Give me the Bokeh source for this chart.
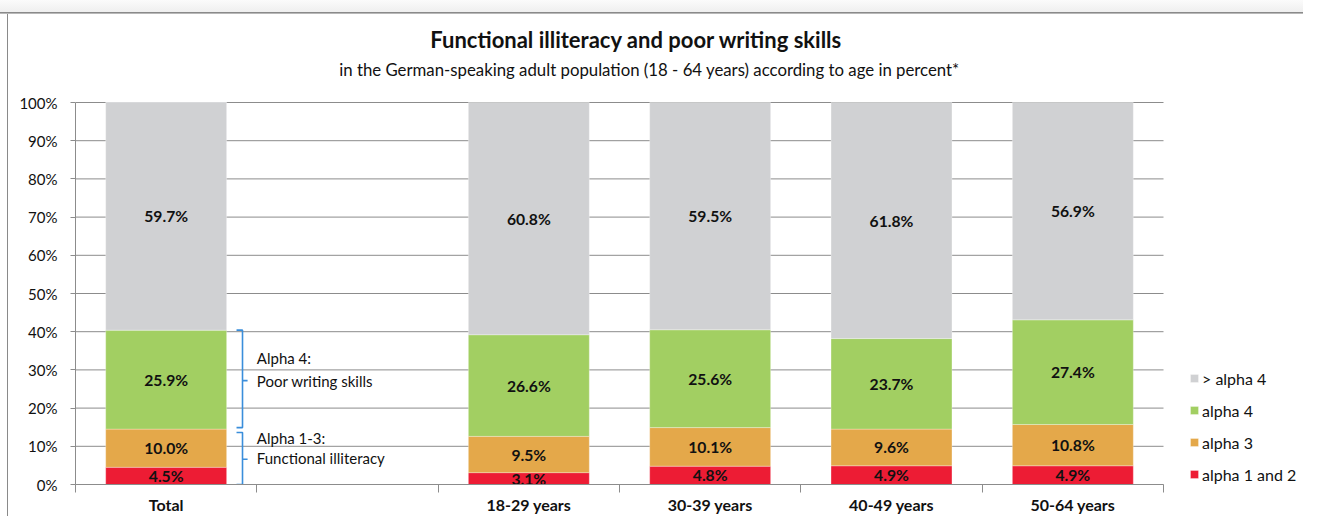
from bokeh.plotting import figure
from bokeh.models import (Range1d, FixedTicker, Legend, LegendItem, Label,
                          ColumnDataSource, PrintfTickFormatter, CustomJSTickFormatter)
from bokeh.core.properties import value
from bokeh.embed import file_html
from bokeh.resources import INLINE

# ---------------- data ----------------
categories = ["Total", "", "18-29 years", "30-39 years", "40-49 years", "50-64 years"]
bar_categories = ["Total", "18-29 years", "30-39 years", "40-49 years", "50-64 years"]
alpha_1_2 = [4.5, 3.1, 4.8, 4.9, 4.9]
alpha_3 = [10.0, 9.5, 10.1, 9.6, 10.8]
alpha_4 = [25.9, 26.6, 25.6, 23.7, 27.4]
above_alpha_4 = [59.7, 60.8, 59.5, 61.8, 56.9]
series_names = ["alpha 1 and 2", "alpha 3", "alpha 4", "> alpha 4"]
y_ticks = list(range(0, 101, 10))

title_text = "Functional illiteracy and poor writing skills"
subtitle_text = "in the German-speaking adult population (18 - 64 years) according to age in percent*"

# ---------------- styles ----------------
FONT = "Lato"
colors = ["#ed1c34", "#e4a84a", "#a2cf62", "#d0d1d3"]
GRID = "#8c8c8c"
TXT = "#111111"
BRACE = "#3a8edb"

LEFT, BOTTOM = 75, 30
FRAME_W, FRAME_H = 1228, 484
PX_PER_CAT = 1088 / 6      # pixel width of one category slot
PX_PER_PCT = 382 / 100     # pixels per percent
n_cat = len(categories)
x_end = FRAME_W / PX_PER_CAT
y_end = FRAME_H / PX_PER_PCT

keys = ["a12", "a3", "a4", "a5"]
xs = [categories.index(c) + 0.5 for c in bar_categories]
source = ColumnDataSource(dict(x=xs, a12=alpha_1_2, a3=alpha_3, a4=alpha_4, a5=above_alpha_4))

p = figure(frame_width=FRAME_W, frame_height=FRAME_H, output_backend="svg",
           toolbar_location=None,
           x_range=Range1d(0, x_end), y_range=Range1d(0, y_end),
           min_border_left=LEFT, min_border_right=0, min_border_top=0,
           min_border_bottom=BOTTOM)
p.styles = {"background": (
    "linear-gradient(#8a8a8a,#8a8a8a) 0 12px / 100% 1px no-repeat, "
    "linear-gradient(#b8b8b8,#b8b8b8) 0 13px / 100% 1px no-repeat, "
    "linear-gradient(#8a8a8a,#8a8a8a) 7px 12px / 1px 100% no-repeat, "
    "linear-gradient(#fbfbfb,#efefef) 0 0 / 100% 12px no-repeat, #ffffff")}
p.outline_line_color = None
p.background_fill_alpha = 0
p.border_fill_alpha = 0

# grid lines across the category slots only
p.xgrid.visible = False
p.ygrid.visible = False
p.segment(x0=[0] * len(y_ticks), x1=[n_cat] * len(y_ticks), y0=y_ticks, y1=y_ticks,
          line_color=GRID, line_width=1, level="underlay")

renderers = p.vbar_stack(keys, x="x", width=0.667, color=colors, source=source,
                         line_color="white", line_width=0.5, line_alpha=0.6)

# segment labels
lx, ly, lt = [], [], []
series = [alpha_1_2, alpha_3, alpha_4, above_alpha_4]
for i, x in enumerate(xs):
    bottom = 0.0
    for s in series:
        v = s[i]
        lx.append(x)
        ly.append(bottom + v / 2)
        lt.append(f"{v:.1f}%")
        bottom += v
p.text(x=lx, y=ly, text=lt, text_align="center", text_baseline="middle",
       text_font=value(FONT), text_font_style="bold", text_font_size="15.7px",
       text_color=TXT)

# axes
ya = p.yaxis[0]
ya.bounds = (0, 100)
ya.ticker = FixedTicker(ticks=y_ticks)
ya.formatter = PrintfTickFormatter(format="%d%%")
ya.axis_line_color = GRID
ya.major_tick_line_color = GRID
ya.major_tick_out = 5
ya.major_tick_in = 0
ya.minor_tick_line_color = None
ya.major_label_standoff = 13
ya.major_label_text_font = FONT
ya.major_label_text_font_size = "15px"
ya.major_label_text_color = TXT

xa = p.xaxis[0]
xa.bounds = (0, n_cat)
xa.ticker = FixedTicker(ticks=[i + 0.5 for i in range(n_cat)],
                        minor_ticks=list(range(n_cat + 1)))
xa.formatter = CustomJSTickFormatter(args=dict(labels=categories),
                                     code="return labels[Math.floor(tick)] || '';")
xa.axis_line_color = GRID
xa.major_tick_line_color = None
xa.major_tick_out = 0
xa.major_tick_in = 0
xa.minor_tick_line_color = GRID
xa.minor_tick_out = 8
xa.minor_tick_in = 0
xa.major_label_standoff = 2
xa.major_label_text_font = FONT
xa.major_label_text_font_style = "bold"
xa.major_label_text_font_size = "16px"
xa.major_label_text_color = TXT

# braces (annotation in the empty slot, spanning the "Total" bar segments)
top4 = alpha_1_2[0] + alpha_3[0] + alpha_4[0]
bot4 = alpha_1_2[0] + alpha_3[0] + 0.4
top13 = alpha_1_2[0] + alpha_3[0] - 0.9
bx, hx, tx = 0.921, 0.888, 0.949
mid4 = 27.2
mid13 = 6.6
p.multi_line(xs=[[hx, bx, bx, tx, bx, bx, hx], [hx, bx, bx, tx, bx, bx, hx]],
             ys=[[top4, top4, mid4, mid4, mid4, bot4, bot4],
                 [top13, top13, mid13, mid13, mid13, 0, 0]],
             line_color=BRACE, line_width=1.6)
for txt, yy in [("Alpha 4:", 33.0), ("Poor writing skills", 27.2),
                ("Alpha 1-3:", 12.3), ("Functional illiteracy", 7.0)]:
    p.add_layout(Label(x=1.0, y=yy, text=txt, text_align="left", text_baseline="middle",
                       text_font=FONT, text_font_size="15px", text_color=TXT))

# title & subtitle
p.add_layout(Label(x=3.094, y=116.6, text=title_text, text_align="center",
                   text_baseline="middle", text_font=FONT, text_font_style="bold",
                   text_font_size="22px", text_color=TXT))
p.add_layout(Label(x=3.165, y=108.7, text=subtitle_text, text_align="center",
                   text_baseline="middle", text_font=FONT, text_font_size="16.8px",
                   text_color=TXT))

# legend
items = [LegendItem(label=series_names[i], renderers=[renderers[i]]) for i in range(3, -1, -1)]
legend = Legend(items=items, location=(1114, 0), margin=0, padding=0,
                border_line_color=None, background_fill_alpha=0,
                glyph_width=10, glyph_height=10, label_height=20, spacing=12,
                label_standoff=3, label_text_font=FONT, label_text_font_size="16px",
                label_text_color=TXT)
p.add_layout(legend)

open("out.html", "w").write(file_html(p, INLINE))
